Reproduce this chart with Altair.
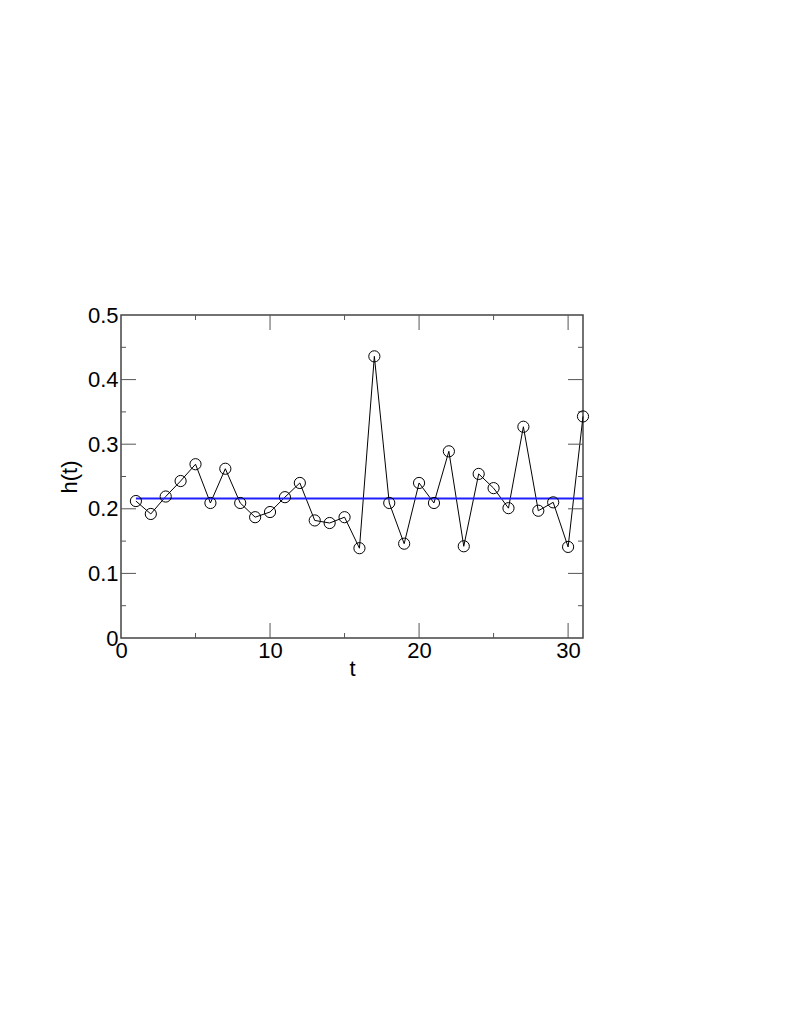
import altair as alt
import pandas as pd

t_values = list(range(1, 32))
h_values = [0.212, 0.192, 0.219, 0.243, 0.269, 0.209, 0.262, 0.209, 0.187, 0.195,
            0.218, 0.240, 0.182, 0.178, 0.187, 0.139, 0.436, 0.209, 0.146, 0.240,
            0.209, 0.289, 0.142, 0.254, 0.232, 0.201, 0.327, 0.197, 0.210, 0.141,
            0.343]
mean_start = [1]
mean_end = [31]
mean_value = [0.216]

x_major = [0, 10, 20, 30]
x_minor = [5, 15, 25]
y_major = [0, 0.1, 0.2, 0.3, 0.4, 0.5]
y_minor = [0.05, 0.15, 0.25, 0.35, 0.45]

W, H = 462, 323
FONT = "Liberation Sans"
TICK = "#555555"

df = pd.DataFrame({"t": t_values, "h": h_values})
mean_df = pd.DataFrame({"t1": mean_start, "t2": mean_end, "h": mean_value})

xscale = alt.Scale(domain=[0, 31], nice=False, zero=False)
yscale = alt.Scale(domain=[0, 0.5], nice=False)

xaxis = alt.Axis(values=x_major, ticks=False, domain=False, grid=False,
                 labelFontSize=22, labelFont=FONT, labelColor="black", labelPadding=2,
                 title="t", titleFontSize=22, titleFont=FONT, titleFontWeight="normal",
                 titleColor="black", titlePadding=-3, labelFlush=False)
yaxis = alt.Axis(values=y_major, ticks=False, domain=False, grid=False,
                 labelFontSize=22, labelFont=FONT, labelColor="black", labelPadding=3,
                 labelExpr="datum.value == 0 ? '0' : format(datum.value, '.1f')",
                 title="h(t)", titleFontSize=22, titleFont=FONT, titleFontWeight="normal",
                 titleColor="black", titlePadding=6, labelFlush=False)

base = alt.Chart(df)
line = base.mark_line(color="black", strokeWidth=1).encode(
    x=alt.X("t:Q", scale=xscale, axis=xaxis),
    y=alt.Y("h:Q", scale=yscale, axis=yaxis),
)
points = base.mark_point(shape="circle", filled=False, color="black", size=125,
                         strokeWidth=1, opacity=1).encode(
    x=alt.X("t:Q", scale=xscale), y=alt.Y("h:Q", scale=yscale))
mean_rule = alt.Chart(mean_df).mark_rule(color="#1f1fff", strokeWidth=2).encode(
    x=alt.X("t1:Q", scale=xscale), x2="t2:Q", y=alt.Y("h:Q", scale=yscale))


def xticks(vals, length):
    d = pd.DataFrame({"v": vals})
    bottom = alt.Chart(d).mark_rule(color=TICK, strokeWidth=1).encode(
        x=alt.X("v:Q", scale=xscale), y=alt.value(H), y2=alt.value(H - length))
    top = alt.Chart(d).mark_rule(color=TICK, strokeWidth=1).encode(
        x=alt.X("v:Q", scale=xscale), y=alt.value(0), y2=alt.value(length))
    return [bottom, top]


def yticks(vals, length):
    d = pd.DataFrame({"v": vals})
    left = alt.Chart(d).mark_rule(color=TICK, strokeWidth=1).encode(
        y=alt.Y("v:Q", scale=yscale), x=alt.value(0), x2=alt.value(length))
    right = alt.Chart(d).mark_rule(color=TICK, strokeWidth=1).encode(
        y=alt.Y("v:Q", scale=yscale), x=alt.value(W), x2=alt.value(W - length))
    return [left, right]


tick_layers = (xticks(x_major[1:], 15) + xticks(x_minor, 5)
               + yticks(y_major[1:-1], 15) + yticks(y_minor, 5))

chart = alt.layer(line, *tick_layers, mean_rule, points).properties(
    width=W, height=H,
    autosize=alt.AutoSizeParams(type="none"),
    padding={"left": 113, "top": 307, "right": 10, "bottom": 60},
).configure(background="white").configure_view(stroke="#444444", strokeWidth=1.5)

chart.save("out.html", embed_options={"renderer": "svg", "actions": False})
